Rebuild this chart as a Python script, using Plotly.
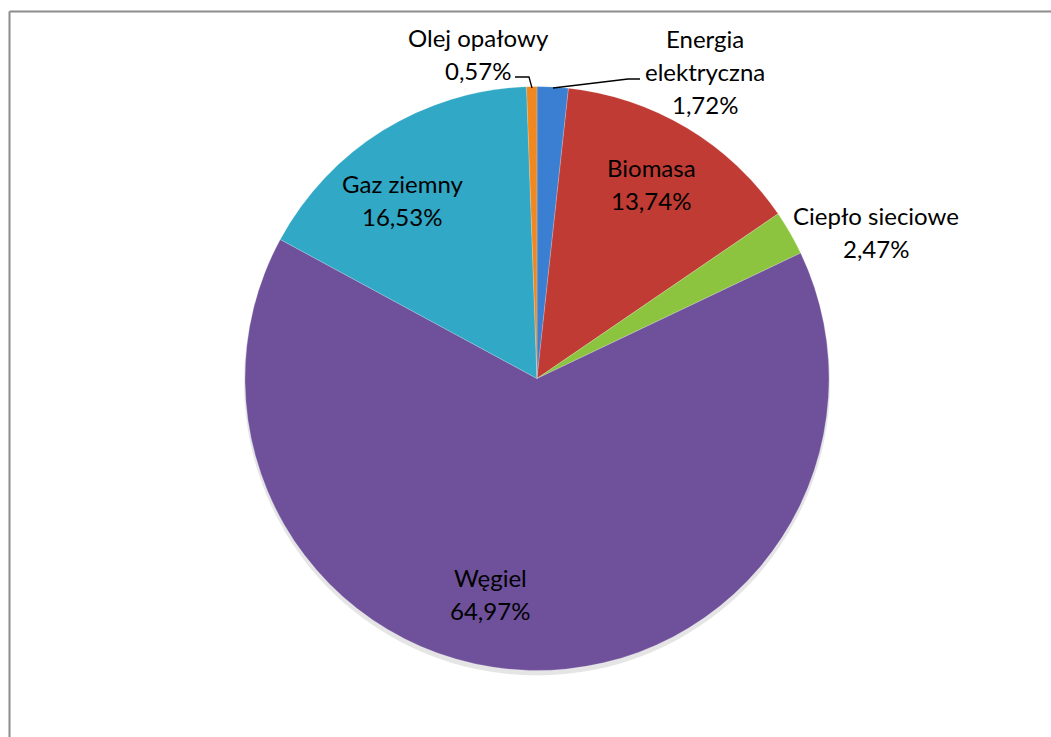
import plotly.graph_objects as go

labels = ["Energia elektryczna", "Biomasa", "Ciepło sieciowe", "Węgiel", "Gaz ziemny", "Olej opałowy"]
values = [1.72, 13.74, 2.47, 64.97, 16.53, 0.57]
colors = ["#3a7fd2", "#c03b34", "#8dc43f", "#6f519b", "#30a8c6", "#f0881f"]

# label name lines (percent appended as the last line)
label_lines = [["Energia", "elektryczna"], ["Biomasa"], ["Ciepło sieciowe"], ["Węgiel"], ["Gaz ziemny"], ["Olej opałowy"]]
# annotation block centre positions in pixels (x, y from top)
label_pos = [(705, 71.5), (651, 184), (876, 232), (490, 593.5), (402, 200), (478, 54)]

W, H = 1051, 737
cx, cy, r = 537, 378.5, 292
LINE = 33

def dom(cx, cy, r):
    return dict(x=[(cx - r) / W, (cx + r) / W], y=[(H - cy - r) / H, (H - cy + r) / H])

fig = go.Figure()
# soft shadow under the pie
fig.add_trace(go.Pie(
    values=[1], labels=["shadow"], marker=dict(colors=["rgba(0,0,0,0.10)"], line=dict(width=0)),
    textinfo="none", hoverinfo="skip", showlegend=False, domain=dom(cx, cy + 4, r + 1), sort=False,
))
fig.add_trace(go.Pie(
    labels=labels, values=values, sort=False, direction="clockwise", rotation=0,
    marker=dict(colors=colors, line=dict(color="rgba(255,255,255,0.35)", width=0.6)),
    textinfo="none", hoverinfo="label+percent", showlegend=False,
    domain=dom(cx, cy, r),
))

annotations = []
for name_lines, v, (px, py) in zip(label_lines, values, label_pos):
    lines = name_lines + [f"{v:.2f}%".replace(".", ",")]
    n = len(lines)
    for i, t in enumerate(lines):
        y = py + (i - (n - 1) / 2) * LINE
        annotations.append(dict(
            x=px / W, y=1 - y / H, xref="paper", yref="paper", text=t, showarrow=False,
            font=dict(family="Lato, Carlito, sans-serif", size=24, color="#000000"),
            align="center", xanchor="center", yanchor="middle",
        ))

def P(x, y):
    return f"{x / W},{1 - y / H}"

shapes = [
    # chart frame (only top and left edges visible)
    dict(type="line", xref="paper", yref="paper", x0=9.5 / W, y0=1 - 11.5 / H, x1=1.0, y1=1 - 11.5 / H,
         line=dict(color="#8c8c8c", width=2)),
    dict(type="line", xref="paper", yref="paper", x0=9.5 / W, y0=1 - 11.5 / H, x1=9.5 / W, y1=0,
         line=dict(color="#8c8c8c", width=2)),
    # leader line: Olej opałowy
    dict(type="path", xref="paper", yref="paper",
         path=f"M {P(515, 77)} L {P(529, 77)} L {P(532, 88)}",
         line=dict(color="#000000", width=1.3)),
    # leader line: Energia elektryczna
    dict(type="path", xref="paper", yref="paper",
         path=f"M {P(553, 88)} L {P(628, 79)} L {P(640, 79)}",
         line=dict(color="#000000", width=1.3)),
]

fig.update_layout(
    width=W, height=H, margin=dict(l=0, r=0, t=0, b=0),
    paper_bgcolor="#ffffff", plot_bgcolor="#ffffff",
    annotations=annotations, shapes=shapes,
)

fig.write_html("out.html", config={"displayModeBar": False},
               post_script="document.body.style.margin='0';document.body.style.overflow='hidden';")
